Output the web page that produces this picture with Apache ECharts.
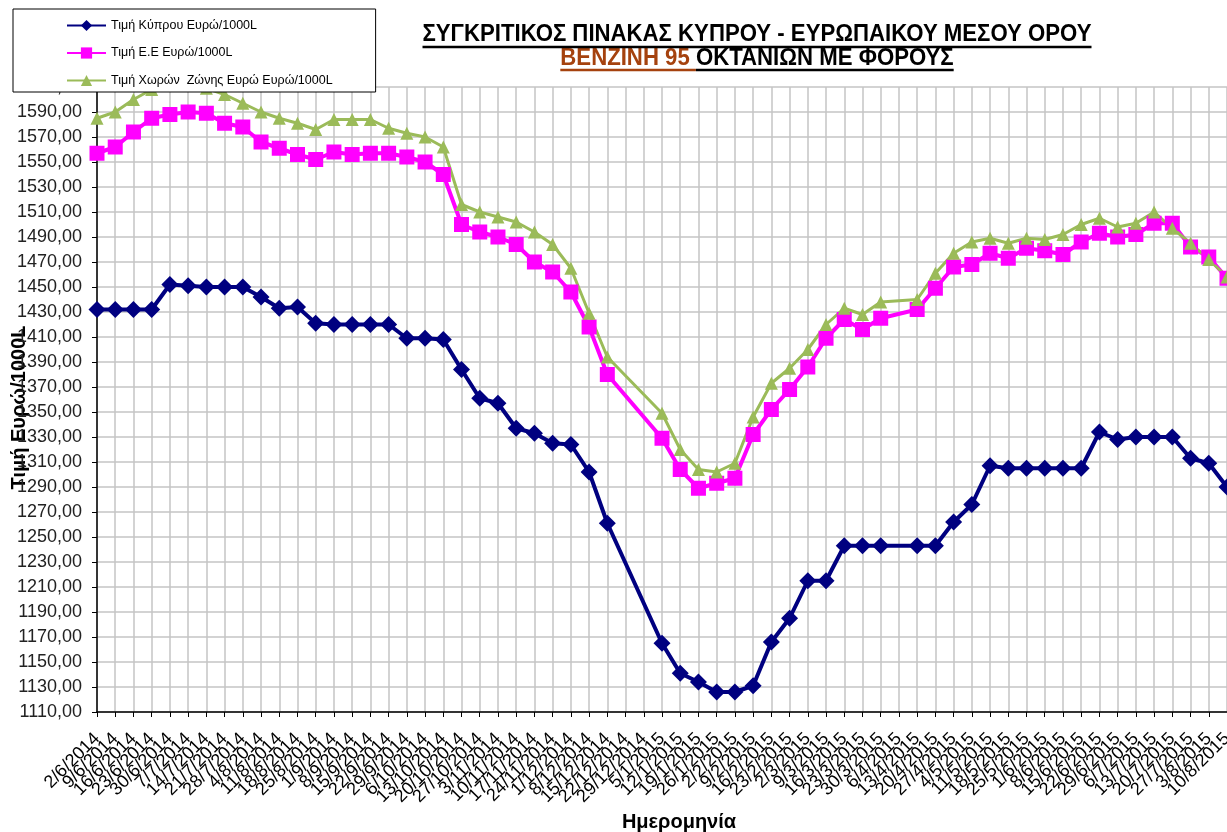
<!DOCTYPE html>
<html>
<head>
<meta charset="utf-8">
<script src="https://cdn.jsdelivr.net/npm/echarts@6/dist/echarts.min.js"></script>
<style>
  html, body { margin: 0; padding: 0; background: #fff; }
  #chart { width: 1227px; height: 832px; }
</style>
</head>
<body>
<div id="chart"></div>
<script>
// weekly dates on the x axis
const dates = [
  '2/6/2014','9/6/2014','16/6/2014','23/6/2014','30/6/2014','7/7/2014','14/7/2014','21/7/2014','28/7/2014',
  '4/8/2014','11/8/2014','18/8/2014','25/8/2014','1/9/2014','8/9/2014','15/9/2014','22/9/2014','29/9/2014',
  '6/10/2014','13/10/2014','20/10/2014','27/10/2014','3/11/2014','10/11/2014','17/11/2014','24/11/2014',
  '1/12/2014','8/12/2014','15/12/2014','22/12/2014','29/12/2014','5/1/2015','12/1/2015','19/1/2015',
  '26/1/2015','2/2/2015','9/2/2015','16/2/2015','23/2/2015','2/3/2015','9/3/2015','16/3/2015','23/3/2015',
  '30/3/2015','6/4/2015','13/4/2015','20/4/2015','27/4/2015','4/5/2015','11/5/2015','18/5/2015','25/5/2015',
  '1/6/2015','8/6/2015','15/6/2015','22/6/2015','29/6/2015','6/7/2015','13/7/2015','20/7/2015','27/7/2015',
  '3/8/2015','10/8/2015'
];

// Τιμή Κύπρου
const cyprus = [
  1432,1432,1432,1432,1452,1451,1450,1450,1450,1442,1433,1434,1421,1420,1420,1420,1420,1409,1409,1408,
  1384,1361,1357,1337,1333,1325,1324,1302,1261,null,null,1165,1141,1134,1126,1126,1131,1166,1185,1215,
  1215,1243,1243,1243,null,1243,1243,1262,1276,1307,1305,1305,1305,1305,1305,1334,1328,1330,1330,1330,
  1313,1309,1290
];

// Τιμή Ε.Ε
const eu = [
  1557,1562,1574,1585,1588,1590,1589,1581,1578,1566,1561,1556,1552,1558,1556,1557,1557,1554,1550,1540,
  1500,1494,1490,1484,1470,1462,1446,1418,1380,null,null,1329,1304,1289,1293,1297,1332,1352,1368,1386,
  1409,1424,1416,1425,null,1432,1449,1466,1468,1477,1473,1481,1479,1476,1486,1493,1490,1492,1501,1501,
  1482,1474,1457
];

// Τιμή Χωρών Ζώνης Ευρώ
const euroZone = [
  1585,1590,1600,1608,1611,1612,1609,1604,1597,1590,1585,1581,1576,1584,1584,1584,1577,1573,1570,1562,
  1516,1510,1506,1502,1494,1484,1465,1429,1394,null,null,1349,1320,1304,1302,1309,1346,1373,1385,1400,
  1420,1433,1428,1438,null,1440,1461,1477,1486,1489,1485,1489,1488,1492,1500,1505,1498,1501,1510,1497,
  1485,1472,1458
];

const seriesNames = ['Τιμή Κύπρου Ευρώ/1000L', 'Τιμή Ε.Ε Ευρώ/1000L', 'Τιμή Χωρών  Ζώνης Ευρώ Ευρώ/1000L'];

const titleLine1 = 'ΣΥΓΚΡΙΤΙΚΟΣ ΠΙΝΑΚΑΣ ΚΥΠΡΟΥ - ΕΥΡΩΠΑΙΚΟΥ ΜΕΣΟΥ ΟΡΟΥ';
const titleBrown = 'ΒΕΝΖΙΝΗ 95 ';
const titleRest = 'ΟΚΤΑΝΙΩΝ ΜΕ ΦΟΡΟΥΣ';

const font = "'Liberation Sans', Arial, sans-serif";
const titleFont = "bold 23px 'Liberation Sans', Arial, sans-serif";
const brown = '#A5420E';

// squeeze the title to look like a narrow bold face
const ctx = document.createElement('canvas').getContext('2d');
ctx.font = titleFont;
const titleScale = 669 / ctx.measureText(titleLine1).width;
const w1 = ctx.measureText(titleLine1).width * titleScale;
const wBrown = ctx.measureText(titleBrown).width * titleScale;
const w2 = ctx.measureText(titleBrown + titleRest).width * titleScale;
const cx = 757;

const chart = echarts.init(document.getElementById('chart'));
chart.setOption({
  animation: false,
  backgroundColor: '#fff',
  graphic: [
    {
      type: 'text', x: cx, y: 35, z: 10, scaleX: titleScale,
      style: { text: titleLine1, font: titleFont, fill: '#000', align: 'center', verticalAlign: 'middle' }
    },
    {
      type: 'text', x: cx, y: 59, z: 10, scaleX: titleScale,
      style: {
        text: '{b|' + titleBrown + '}{c|' + titleRest + '}',
        align: 'center', verticalAlign: 'middle',
        rich: {
          b: { font: titleFont, fill: brown },
          c: { font: titleFont, fill: '#000' }
        }
      }
    },
    { type: 'line', z: 10, shape: { x1: cx - w1 / 2, y1: 47, x2: cx + w1 / 2, y2: 47 }, style: { stroke: '#000', lineWidth: 2.5 } },
    { type: 'line', z: 10, shape: { x1: cx - w2 / 2, y1: 70, x2: cx - w2 / 2 + wBrown, y2: 70 }, style: { stroke: brown, lineWidth: 2.5 } },
    { type: 'line', z: 10, shape: { x1: cx - w2 / 2 + wBrown, y1: 70, x2: cx + w2 / 2, y2: 70 }, style: { stroke: '#000', lineWidth: 2.5 } }
  ],
  legend: {
    orient: 'vertical',
    left: 13,
    top: 9,
    padding: [10, 43, 5, 53],
    itemGap: 14.5,
    itemWidth: 39,
    itemHeight: 14,
    backgroundColor: '#fff',
    borderColor: '#000',
    borderWidth: 1,
    z: 20,
    textStyle: { fontFamily: font, fontSize: 12.5, color: '#000' },
    data: seriesNames
  },
  grid: {
    left: 97, right: 0, top: 87, bottom: 120,
    containLabel: false,
    outerBoundsMode: 'none'
  },
  xAxis: {
    type: 'category',
    data: dates,
    boundaryGap: false,
    name: 'Ημερομηνία',
    nameLocation: 'middle',
    nameGap: 100,
    nameMoveOverlap: false,
    nameTextStyle: { fontFamily: font, fontSize: 20, fontWeight: 'bold', color: '#000', padding: [0, 0, 0, 34] },
    axisLine: { lineStyle: { color: '#000', width: 1.5 } },
    axisTick: { interval: 0, length: 5, lineStyle: { color: '#000' } },
    axisLabel: {
      interval: 0, rotate: 45, margin: 24,
      fontFamily: font, fontSize: 18, color: '#000'
    },
    splitLine: { show: true, interval: 0, lineStyle: { color: '#c4c4c4', width: 1.5 } }
  },
  yAxis: {
    type: 'value',
    min: 1110,
    max: 1610,
    interval: 20,
    name: 'Τιμή Ευρώ/1000L',
    nameLocation: 'middle',
    nameGap: 68,
    nameRotate: 90,
    nameMoveOverlap: false,
    nameTextStyle: { fontFamily: font, fontSize: 20, fontWeight: 'bold', color: '#000', padding: [0, 16, 0, 0] },
    axisLine: { show: true, lineStyle: { color: '#000', width: 1.5 } },
    axisTick: { show: true, length: 5, lineStyle: { color: '#000' } },
    axisLabel: {
      margin: 15,
      fontFamily: font, fontSize: 18, color: '#222',
      formatter: v => v.toFixed(2).replace('.', ',')
    },
    splitLine: { show: true, lineStyle: { color: '#c4c4c4', width: 1.5 } }
  },
  series: [
    {
      name: seriesNames[0], type: 'line', data: cyprus, connectNulls: true,
      symbol: 'diamond', symbolSize: 17,
      lineStyle: { color: '#000080', width: 4 },
      itemStyle: { color: '#000080' }
    },
    {
      name: seriesNames[1], type: 'line', data: eu, connectNulls: true,
      symbol: 'rect', symbolSize: 15,
      lineStyle: { color: '#FF00FF', width: 4 },
      itemStyle: { color: '#FF00FF' }
    },
    {
      name: seriesNames[2], type: 'line', data: euroZone, connectNulls: true,
      symbol: 'triangle', symbolSize: 13,
      lineStyle: { color: '#9BBB59', width: 3 },
      itemStyle: { color: '#9BBB59' }
    }
  ]
});
</script>
</body>
</html>
